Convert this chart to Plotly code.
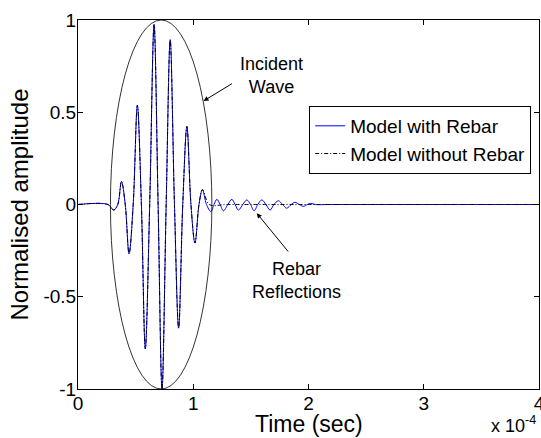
import plotly.graph_objects as go

# ---- data (time in units of 1e-4 s, normalised amplitude) ----
t_with = [0, 0.26, 0.31, 0.345, 0.377, 0.41, 0.443, 0.479, 0.515, 0.55, 0.584, 0.622,
          0.66, 0.695, 0.729, 0.765, 0.80, 0.837, 0.873, 0.909, 0.945, 0.98, 1.015,
          1.05, 1.08, 1.115, 1.153, 1.18, 1.205, 1.233, 1.262, 1.30, 1.335, 1.363,
          1.392, 1.43, 1.465, 1.497, 1.528, 1.56, 1.595, 1.63, 1.667, 1.70, 1.739,
          1.775, 1.811, 1.85, 1.883, 1.92, 1.955, 1.99, 2.019, 2.06, 2.2, 4.0]
amp_with = [0, 0, -0.03, 0, 0.125, 0, -0.267, 0, 0.537, 0, -0.782, 0,
            0.975, 0, -1.0, 0, 0.893, 0, -0.67, 0, 0.423, 0, -0.209,
            0, 0.08, 0, -0.038, 0, 0.028, 0, -0.034, 0, 0.028, 0,
            -0.03, 0, 0.025, 0, -0.034, 0, 0.025, 0, -0.03, 0, 0.02,
            0, -0.02, 0, 0.012, 0, -0.01, 0, 0.006, 0, 0, 0]

t_without = [0, 0.26, 0.31, 0.345, 0.377, 0.41, 0.443, 0.479, 0.515, 0.55, 0.584, 0.622,
             0.66, 0.695, 0.729, 0.765, 0.80, 0.837, 0.873, 0.909, 0.945, 0.98, 1.015,
             1.05, 1.08, 1.14, 1.3, 4.0]
amp_without = [0, 0, -0.03, 0, 0.125, 0, -0.267, 0, 0.537, 0, -0.782, 0,
               0.975, 0, -1.0, 0, 0.893, 0, -0.67, 0, 0.423, 0, -0.209,
               0, 0.08, 0, 0, 0]

x_tick_vals = [0, 1, 2, 3, 4]
x_tick_text = ["0", "1", "2", "3", "4"]
y_tick_vals = [-1, -0.5, 0, 0.5, 1]
y_tick_text = ["-1", "-0.5", "0", "0.5", "1"]

scale = 1e-4
ellipse_center = 0.7215
ellipse_halfwidth = 0.44

FONT = "Arial, Liberation Sans, sans-serif"

fig = go.Figure()
fig.add_trace(go.Scatter(
    x=[v * scale for v in t_with], y=amp_with, mode="lines",
    name="Model with Rebar",
    line=dict(color="#0000ff", width=1, shape="spline", smoothing=1.0)))
fig.add_trace(go.Scatter(
    x=[v * scale for v in t_without], y=amp_without, mode="lines",
    name="Model without Rebar",
    line=dict(color="black", width=1, dash="4px,2px,1px,2px", shape="spline", smoothing=1.0)))

fig.add_shape(type="circle", xref="x", yref="y",
              x0=(ellipse_center - ellipse_halfwidth) * scale,
              x1=(ellipse_center + ellipse_halfwidth) * scale,
              y0=-1, y1=1, line=dict(color="black", width=0.8))

annotations = [
    dict(x=1.089 * scale, y=0.561, ax=1.349 * scale, ay=0.660, xref="x", yref="y",
         axref="x", ayref="y", text="", showarrow=True, arrowhead=2, arrowsize=1,
         arrowwidth=1, arrowcolor="black"),
    dict(x=1.675 * scale, y=0.697, xref="x", yref="y", text="Incident<br>Wave",
         showarrow=False, font=dict(family=FONT, size=18, color="black"), align="center"),
    dict(x=1.551 * scale, y=-0.047, ax=1.834 * scale, ay=-0.263, xref="x", yref="y",
         axref="x", ayref="y", text="", showarrow=True, arrowhead=2, arrowsize=1,
         arrowwidth=1, arrowcolor="black"),
    dict(x=1.898 * scale, y=-0.413, xref="x", yref="y", text="Rebar<br>Reflections",
         showarrow=False, font=dict(family=FONT, size=18, color="black"), align="center"),
    dict(x=1, y=0, xref="paper", yref="paper", xanchor="right", yanchor="middle",
         xshift=-1, yshift=-35, text="x 10<sup>-4</sup>", showarrow=False,
         font=dict(family=FONT, size=18, color="black")),
    dict(x=0.5, y=0, xref="paper", yref="paper", xanchor="center", yanchor="middle",
         yshift=-35, text="Time (sec)", showarrow=False,
         font=dict(family=FONT, size=23, color="black")),
]

fig.update_layout(
    width=541, height=438,
    margin=dict(l=77.5, r=1.5, t=20, b=48.7, autoexpand=False),
    paper_bgcolor="white", plot_bgcolor="white",
    font=dict(family=FONT, size=18, color="black"),
    showlegend=True,
    legend=dict(x=0.983, y=0.767, xanchor="right", yanchor="top",
                bgcolor="white", bordercolor="black", borderwidth=1,
                font=dict(family=FONT, size=19, color="black"),
                tracegroupgap=0, itemwidth=30),
    annotations=annotations,
)
fig.update_xaxes(range=[0, 4 * scale], tickvals=[v * scale for v in x_tick_vals],
                 ticktext=x_tick_text, ticks="inside", ticklen=5, tickcolor="black",
                 showline=True, linecolor="black", linewidth=1, mirror="ticks",
                 showgrid=False, zeroline=False, ticklabeloverflow="allow",
                 ticklabelstandoff=-3, automargin=False,
                 tickfont=dict(family=FONT, size=19))
fig.update_yaxes(range=[-1, 1], tickvals=y_tick_vals, ticktext=y_tick_text,
                 ticks="inside", ticklen=5, tickcolor="black",
                 showline=True, linecolor="black", linewidth=1, mirror="ticks",
                 showgrid=False, zeroline=False, ticklabelstandoff=-3,
                 automargin=False,
                 tickfont=dict(family=FONT, size=19),
                 title=dict(text="Normalised amplitude", font=dict(family=FONT, size=24), standoff=8))

fig.write_html("out.html")
